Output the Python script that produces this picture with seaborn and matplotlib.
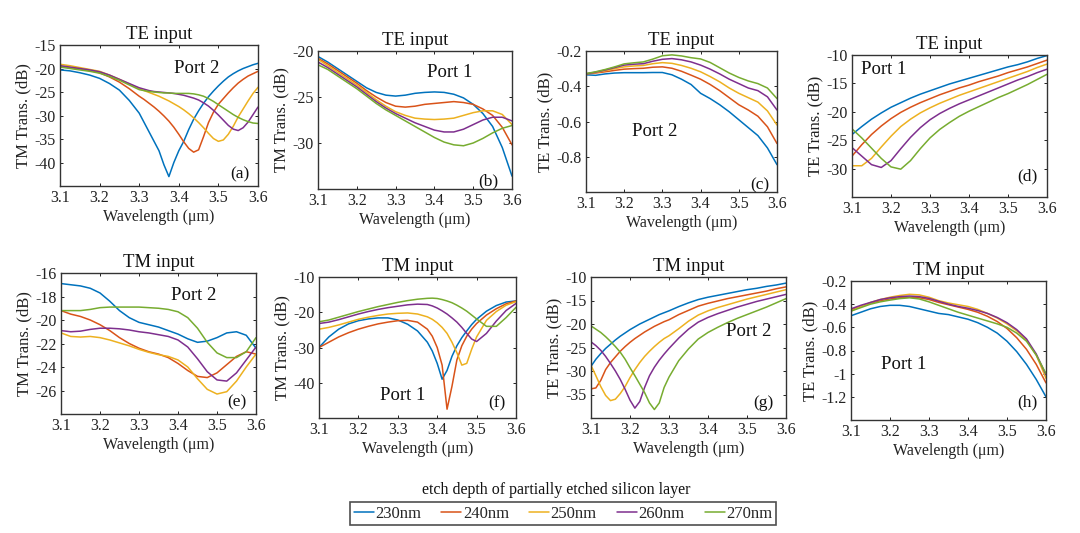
import matplotlib
matplotlib.use("Agg")
import matplotlib.pyplot as plt
import numpy as np
import pandas as pd
import seaborn as sns
from matplotlib.ticker import FuncFormatter

# ---------------- data ----------------
DEPTHS = ["230nm", "240nm", "250nm", "260nm", "270nm"]
COLORS = ["#0072BD", "#D95319", "#EDB120", "#7E2F8E", "#77AC30"]

X = [3.100, 3.125, 3.150, 3.175, 3.200, 3.225, 3.250, 3.275, 3.300, 3.325, 3.350,
     3.375, 3.400, 3.425, 3.450, 3.475, 3.500, 3.525, 3.550, 3.575, 3.600]
X_A = [3.100, 3.125, 3.150, 3.175, 3.200, 3.225, 3.250, 3.275,
       3.300, 3.3125, 3.325, 3.3375, 3.350, 3.3625, 3.375, 3.3875, 3.400, 3.4125,
       3.425, 3.4375, 3.450, 3.4625, 3.475, 3.4875, 3.500, 3.5125, 3.525, 3.5375,
       3.550, 3.5625, 3.575, 3.5875, 3.600]
X_F = [3.100, 3.125, 3.150, 3.175, 3.200, 3.225, 3.250, 3.275, 3.300, 3.325, 3.350,
       3.375, 3.3875, 3.400, 3.4125, 3.425, 3.4375, 3.450, 3.4625, 3.475, 3.4875,
       3.500, 3.525, 3.550, 3.575, 3.600]
X_G = [3.100, 3.1125, 3.125, 3.1375, 3.150, 3.1625, 3.175, 3.1875, 3.200, 3.2125,
       3.225, 3.2375, 3.250, 3.2625, 3.275, 3.2875, 3.300,
       3.325, 3.350, 3.375, 3.400, 3.425, 3.450, 3.475, 3.500, 3.525, 3.550, 3.575, 3.600]

# (a) TE input, TM trans, port 2  (grid X_A)
A_230 = [-20.3, -20.5, -20.9, -21.4, -22.1, -23.2, -24.6, -26.8,
         -29.5, -31.5, -33.5, -35.5, -37.5, -40.5, -43.0, -40.0, -37.5, -35.5,
         -33.0, -30.8, -29.0, -27.4, -26.0, -24.8, -23.7, -22.7, -21.8, -21.1,
         -20.5, -20.0, -19.6, -19.2, -18.9]
A_240 = [-19.5, -19.8, -20.1, -20.4, -20.9, -21.8, -22.9, -24.3,
         -25.9, -26.6, -27.4, -28.2, -29.1, -30.1, -31.2, -32.5, -34.0, -35.6,
         -37.0, -37.8, -37.3, -34.5, -31.5, -29.3, -27.6, -26.4, -25.2, -24.1,
         -23.1, -22.3, -21.6, -21.1, -20.6]
A_250 = [-19.1, -19.4, -19.8, -20.2, -20.6, -21.4, -22.3, -23.3,
         -24.3, -24.7, -25.1, -25.5, -25.9, -26.4, -26.9, -27.5, -28.1, -28.8,
         -29.6, -30.5, -31.5, -32.6, -33.8, -34.9, -35.5, -35.2, -34.0, -32.3,
         -30.3, -28.6, -26.9, -25.3, -24.0]
A_260 = [-19.4, -19.7, -20.0, -20.3, -20.7, -21.4, -22.3, -23.2,
         -24.1, -24.4, -24.7, -24.9, -25.0, -25.1, -25.2, -25.3, -25.5, -25.7,
         -26.0, -26.3, -26.7, -27.3, -28.0, -28.9, -29.9, -31.0, -32.1, -32.9,
         -33.2, -32.6, -31.4, -29.8, -28.2]
A_270 = [-19.7, -20.0, -20.3, -20.6, -21.0, -21.7, -22.5, -23.5,
         -24.5, -24.7, -24.9, -25.0, -25.1, -25.2, -25.2, -25.3, -25.3, -25.3,
         -25.3, -25.4, -25.6, -25.9, -26.4, -27.0, -27.7, -28.4, -29.1, -29.8,
         -30.4, -30.9, -31.3, -31.6, -31.7]

# (b) TE input, TM trans, port 1
B_230 = [-20.6, -21.2, -21.9, -22.6, -23.3, -24.0, -24.5, -24.8, -24.9, -24.8, -24.6,
         -24.5, -24.45, -24.5, -24.7, -25.1, -25.8, -26.8, -28.2, -30.5, -33.6]
B_240 = [-20.8, -21.4, -22.1, -22.8, -23.5, -24.3, -25.0, -25.6, -26.0, -26.1, -26.0,
         -25.8, -25.7, -25.6, -25.5, -25.6, -25.8, -26.3, -27.0, -28.3, -30.2]
B_250 = [-20.9, -21.6, -22.3, -23.0, -23.7, -24.5, -25.3, -26.0, -26.6, -27.0, -27.3,
         -27.4, -27.45, -27.4, -27.3, -27.0, -26.7, -26.5, -26.5, -26.9, -28.0]
B_260 = [-21.2, -21.8, -22.5, -23.2, -23.9, -24.7, -25.5, -26.2, -26.8, -27.3, -27.8,
         -28.2, -28.6, -28.8, -28.8, -28.5, -28.0, -27.5, -27.2, -27.2, -27.6]
B_270 = [-21.5, -22.0, -22.7, -23.4, -24.1, -24.9, -25.7, -26.4, -27.0, -27.6, -28.2,
         -28.8, -29.4, -29.9, -30.2, -30.3, -30.0, -29.5, -28.9, -28.4, -28.1]

# (c) TE input, TE trans, port 2
C_230 = [-0.335, -0.338, -0.330, -0.325, -0.323, -0.323, -0.323, -0.322, -0.322, -0.335, -0.360,
         -0.390, -0.440, -0.470, -0.505, -0.545, -0.590, -0.635, -0.680, -0.750, -0.845]
C_240 = [-0.330, -0.325, -0.318, -0.310, -0.303, -0.300, -0.298, -0.292, -0.290, -0.298, -0.315,
         -0.337, -0.360, -0.390, -0.425, -0.465, -0.505, -0.535, -0.570, -0.630, -0.725]
C_250 = [-0.330, -0.322, -0.312, -0.300, -0.290, -0.285, -0.282, -0.272, -0.266, -0.270, -0.282,
         -0.298, -0.318, -0.345, -0.375, -0.410, -0.440, -0.465, -0.490, -0.540, -0.620]
C_260 = [-0.330, -0.320, -0.308, -0.294, -0.280, -0.275, -0.272, -0.258, -0.247, -0.243, -0.250,
         -0.262, -0.280, -0.303, -0.330, -0.360, -0.385, -0.410, -0.425, -0.460, -0.535]
C_270 = [-0.328, -0.318, -0.305, -0.290, -0.273, -0.267, -0.262, -0.246, -0.227, -0.222, -0.228,
         -0.238, -0.245, -0.265, -0.295, -0.325, -0.350, -0.370, -0.385, -0.410, -0.470]

# (d) TE input, TE trans, port 1
D_230 = [-24.0, -22.6, -21.3, -20.2, -19.2, -18.4, -17.6, -16.9, -16.3, -15.7, -15.1,
         -14.6, -14.1, -13.6, -13.1, -12.6, -12.1, -11.7, -11.2, -10.6, -10.1]
D_240 = [-27.8, -25.8, -24.0, -22.5, -21.2, -20.1, -19.2, -18.4, -17.7, -17.0, -16.4,
         -15.8, -15.3, -14.7, -14.2, -13.7, -13.1, -12.6, -12.1, -11.5, -10.9]
D_250 = [-29.5, -29.5, -28.2, -26.2, -24.3, -22.6, -21.3, -20.2, -19.3, -18.5, -17.8,
         -17.1, -16.5, -15.9, -15.3, -14.7, -14.1, -13.5, -12.9, -12.2, -11.6]
D_260 = [-26.3, -27.8, -29.3, -29.8, -28.6, -26.5, -24.5, -22.8, -21.4, -20.3, -19.4,
         -18.6, -17.9, -17.2, -16.5, -15.8, -15.1, -14.4, -13.8, -13.1, -12.5]
D_270 = [-23.0, -24.6, -26.4, -28.2, -29.7, -30.1, -28.6, -26.5, -24.6, -23.1, -21.9,
         -20.8, -19.9, -19.1, -18.3, -17.5, -16.8, -16.0, -15.2, -14.3, -13.4]

# (e) TM input, TM trans, port 2
E_230 = [-16.9, -17.0, -17.1, -17.3, -17.7, -18.4, -19.2, -19.8, -20.2, -20.4, -20.6,
         -20.9, -21.2, -21.6, -21.9, -21.8, -21.5, -21.1, -21.0, -21.3, -22.4]
E_240 = [-19.2, -19.5, -19.7, -20.0, -20.4, -20.9, -21.5, -22.0, -22.4, -22.7, -22.9,
         -23.2, -23.7, -24.3, -24.8, -24.9, -24.5, -23.8, -23.1, -22.7, -22.9]
E_250 = [-21.1, -21.4, -21.45, -21.4, -21.5, -21.7, -21.95, -22.2, -22.5, -22.75, -22.95,
         -23.1, -23.4, -24.0, -25.0, -25.9, -26.3, -26.1, -25.2, -24.0, -22.9]
E_260 = [-20.9, -21.0, -20.95, -20.8, -20.7, -20.7, -20.75, -20.85, -21.0, -21.1, -21.25,
         -21.4, -21.7, -22.3, -23.3, -24.4, -25.1, -25.2, -24.5, -23.4, -22.3]
E_270 = [-19.2, -19.2, -19.2, -19.1, -18.95, -18.9, -18.9, -18.9, -18.9, -18.95, -19.0,
         -19.1, -19.3, -19.8, -20.7, -21.9, -22.8, -23.2, -23.2, -22.7, -21.5]

# (f) TM input, TM trans, port 1 (grid X_F)
F_230 = [-30.0, -27.0, -24.8, -23.3, -22.4, -21.9, -21.6, -21.6, -22.2, -23.4, -25.3,
         -28.5, -31.0, -34.5, -39.0, -36.5, -32.5, -29.5, -27.2, -25.3, -23.5,
         -22.0, -19.7, -18.1, -17.1, -16.8]
F_240 = [-30.0, -28.5, -27.0, -25.8, -24.8, -24.0, -23.3, -22.8, -22.4, -22.3, -22.8,
         -24.8, -26.8, -30.0, -35.0, -47.5, -41.0, -33.5, -29.5, -26.8, -24.8,
         -23.2, -20.8, -19.0, -17.6, -16.8]
F_250 = [-24.8, -24.3, -23.6, -22.8, -22.0, -21.4, -20.9, -20.5, -20.3, -20.2, -20.5,
         -21.3, -22.0, -23.0, -24.3, -26.0, -28.5, -31.5, -35.0, -34.5, -30.5,
         -27.0, -22.3, -19.8, -18.0, -17.0]
F_260 = [-23.2, -22.8, -22.1, -21.3, -20.5, -19.8, -19.2, -18.7, -18.3, -17.9, -17.7,
         -17.8, -18.2, -18.8, -19.6, -20.5, -21.6, -22.8, -24.3, -26.0, -27.6,
         -28.3, -26.0, -22.5, -19.5, -17.5]
F_270 = [-22.7, -22.2, -21.4, -20.6, -19.8, -19.1, -18.4, -17.8, -17.2, -16.7, -16.3,
         -16.05, -16.0, -16.1, -16.4, -16.8, -17.3, -18.0, -18.8, -19.7, -20.8,
         -21.9, -24.0, -24.0, -21.5, -18.6]

# (g) TM input, TE trans, port 2 (grid X_G)
G_230 = [-29.0, -27.5, -26.3, -25.2, -24.3, -23.4, -22.6, -21.9, -21.2, -20.6,
         -20.0, -19.5, -19.0, -18.5, -18.0, -17.6, -17.2,
         -16.3, -15.5, -14.8, -14.3, -13.9, -13.5, -13.1, -12.7, -12.4, -12.0, -11.7, -11.3]
G_240 = [-33.8, -33.6, -32.0, -29.7, -28.2, -27.0, -25.8, -24.8, -23.9, -23.1,
         -22.4, -21.7, -21.1, -20.5, -20.0, -19.5, -19.1,
         -18.0, -17.1, -16.2, -15.6, -15.1, -14.6, -14.2, -13.8, -13.4, -13.0, -12.5, -12.1]
G_250 = [-28.8, -31.0, -33.3, -35.2, -36.3, -36.0, -34.8, -33.3, -31.4, -29.7,
         -28.2, -26.9, -25.8, -24.8, -23.9, -23.1, -22.5,
         -21.0, -19.4, -18.1, -17.2, -16.5, -15.9, -15.3, -14.7, -14.2, -13.7, -13.2, -12.7]
G_260 = [-23.8, -24.6, -25.6, -26.9, -28.4, -30.0, -31.8, -33.9, -36.2, -37.9,
         -36.5, -33.5, -31.0, -29.2, -27.7, -26.4, -25.2,
         -23.0, -21.1, -19.6, -18.6, -17.8, -17.1, -16.4, -15.8, -15.2, -14.7, -14.2, -13.7]
G_270 = [-20.4, -21.1, -21.8, -22.7, -23.7, -24.8, -26.0, -27.5, -29.3, -31.0,
         -32.8, -34.6, -36.8, -38.2, -36.8, -33.5, -31.3,
         -27.8, -25.3, -23.2, -21.8, -20.7, -19.7, -18.8, -18.0, -17.2, -16.4, -15.5, -14.6]

# (h) TM input, TE trans, port 1
H_230 = [-0.50, -0.47, -0.44, -0.42, -0.41, -0.41, -0.42, -0.44, -0.46, -0.48, -0.49,
         -0.51, -0.53, -0.56, -0.60, -0.65, -0.72, -0.81, -0.92, -1.05, -1.20]
H_240 = [-0.45, -0.42, -0.39, -0.37, -0.355, -0.345, -0.34, -0.345, -0.36, -0.385, -0.405,
         -0.425, -0.445, -0.47, -0.505, -0.55, -0.61, -0.69, -0.79, -0.92, -1.08]
H_250 = [-0.46, -0.42, -0.385, -0.36, -0.34, -0.325, -0.315, -0.32, -0.34, -0.37, -0.39,
         -0.405, -0.42, -0.445, -0.48, -0.52, -0.57, -0.63, -0.71, -0.84, -1.04]
H_260 = [-0.44, -0.41, -0.385, -0.36, -0.345, -0.335, -0.33, -0.335, -0.35, -0.375, -0.40,
         -0.42, -0.435, -0.455, -0.48, -0.515, -0.56, -0.62, -0.70, -0.83, -1.01]
H_270 = [-0.46, -0.43, -0.40, -0.38, -0.365, -0.352, -0.345, -0.355, -0.38, -0.41, -0.44,
         -0.47, -0.495, -0.52, -0.545, -0.57, -0.60, -0.65, -0.72, -0.84, -1.00]

TITLES = ["TE input"] * 4 + ["TM input"] * 4
YLABELS = ["TM Trans. (dB)", "TM Trans. (dB)", "TE Trans. (dB)", "TE Trans. (dB)",
           "TM Trans. (dB)", "TM Trans. (dB)", "TE Trans. (dB)", "TE Trans. (dB)"]
PORTS = ["Port 2", "Port 1", "Port 2", "Port 1", "Port 2", "Port 1", "Port 2", "Port 1"]
LETTERS = ["(a)", "(b)", "(c)", "(d)", "(e)", "(f)", "(g)", "(h)"]
YLIMS = [(-45, -15), (-35, -20), (-1.0, -0.2), (-35, -10),
         (-28, -16), (-50, -10), (-40, -10), (-1.4, -0.2)]
YTICKS = [[-40, -35, -30, -25, -20, -15], [-30, -25, -20], [-0.8, -0.6, -0.4, -0.2],
          [-30, -25, -20, -15, -10], [-26, -24, -22, -20, -18, -16],
          [-40, -30, -20, -10], [-35, -30, -25, -20, -15, -10],
          [-1.2, -1.0, -0.8, -0.6, -0.4, -0.2]]
XTICKS = [3.1, 3.2, 3.3, 3.4, 3.5, 3.6]
PORT_POS = [(3.445, -19.9), (3.44, -22.3), (3.281, -0.655), (3.181, -12.6),
            (3.44, -17.9), (3.313, -43.5), (3.504, -21.6), (3.235, -0.92)]
LETTER_POS = [(3.553, -42.5), (3.54, -34.2), (3.555, -0.96), (3.549, -31.3),
              (3.551, -27.0), (3.551, -45.8), (3.543, -36.8), (3.551, -1.25)]

PANELS = [
    (X_A, [A_230, A_240, A_250, A_260, A_270]),
    (X, [B_230, B_240, B_250, B_260, B_270]),
    (X, [C_230, C_240, C_250, C_260, C_270]),
    (X, [D_230, D_240, D_250, D_260, D_270]),
    (X, [E_230, E_240, E_250, E_260, E_270]),
    (X_F, [F_230, F_240, F_250, F_260, F_270]),
    (X_G, [G_230, G_240, G_250, G_260, G_270]),
    (X, [H_230, H_240, H_250, H_260, H_270]),
]

# ---------------- style ----------------
sns.set_style("ticks")
plt.rcParams["font.family"] = ["Liberation Serif", "DejaVu Serif"]
plt.rcParams["axes.unicode_minus"] = False
plt.rcParams["xtick.direction"] = "in"
plt.rcParams["ytick.direction"] = "in"

W, H = 1080, 533
fig = plt.figure(figsize=(W / 100, H / 100), dpi=100)

# axes boxes in pixels: left, top, right, bottom
BOXES = [(60, 45, 258, 186), (318, 51, 512, 189), (586, 51, 777, 192), (852, 55, 1047, 197),
         (61, 273, 256, 414), (319, 277, 516, 418), (591, 277, 786, 418), (851, 281, 1046, 420)]

fmt = FuncFormatter(lambda v, p: "%g" % round(v, 3))
SPINE = "#333333"
axes = []
for i, (xs, series) in enumerate(PANELS):
    l, t, r, b = BOXES[i]
    ax = fig.add_axes([l / W, 1 - b / H, (r - l) / W, (b - t) / H])
    axes.append(ax)
    rows = []
    for d, ys in zip(DEPTHS, series):
        for xv, yv in zip(xs, ys):
            rows.append((xv, yv, d))
    df = pd.DataFrame(rows, columns=["wl", "val", "depth"])
    sns.lineplot(data=df, x="wl", y="val", hue="depth", hue_order=DEPTHS,
                 palette=COLORS, estimator=None, sort=True, linewidth=1.1,
                 legend=False, ax=ax)
    ax.set_xlim(3.1, 3.6)
    ax.set_ylim(*YLIMS[i])
    ax.set_xticks(XTICKS)
    ax.set_yticks(YTICKS[i])
    ax.xaxis.set_major_formatter(fmt)
    ax.yaxis.set_major_formatter(fmt)
    ax.tick_params(labelsize=11.5, length=2.5, width=0.7, colors="#222222",
                   top=True, right=True, pad=3)
    for s in ax.spines.values():
        s.set_visible(True)
        s.set_color(SPINE)
        s.set_linewidth(1.0)
    ax.set_title(TITLES[i], fontsize=13.5, pad=4, color="#111111")
    ax.set_xlabel("Wavelength (μm)", fontsize=11.5, labelpad=2, color="#222222")
    ax.set_ylabel(YLABELS[i], fontsize=12, labelpad=2, color="#222222")
    ax.text(*PORT_POS[i], PORTS[i], fontsize=13.5, ha="center", va="center", color="#111111")
    ax.text(*LETTER_POS[i], LETTERS[i], fontsize=12.5, ha="center", va="center", color="#111111")

handles = axes[1].get_lines()[:5]
leg = fig.legend(handles, DEPTHS, loc="center", bbox_to_anchor=(563 / W, 1 - 513.5 / H),
                 ncol=5, frameon=True, fancybox=False, edgecolor="#222222",
                 fontsize=12, handlelength=1.2, handletextpad=0.1,
                 columnspacing=1.2, borderpad=0.2)
leg.get_frame().set_linewidth(1.2)
fig.text(556 / W, 1 - 490 / H, "etch depth of partially etched silicon layer",
         ha="center", va="center", fontsize=11.5, color="#111111")

fig.savefig("out.png", dpi=100, facecolor="white")
